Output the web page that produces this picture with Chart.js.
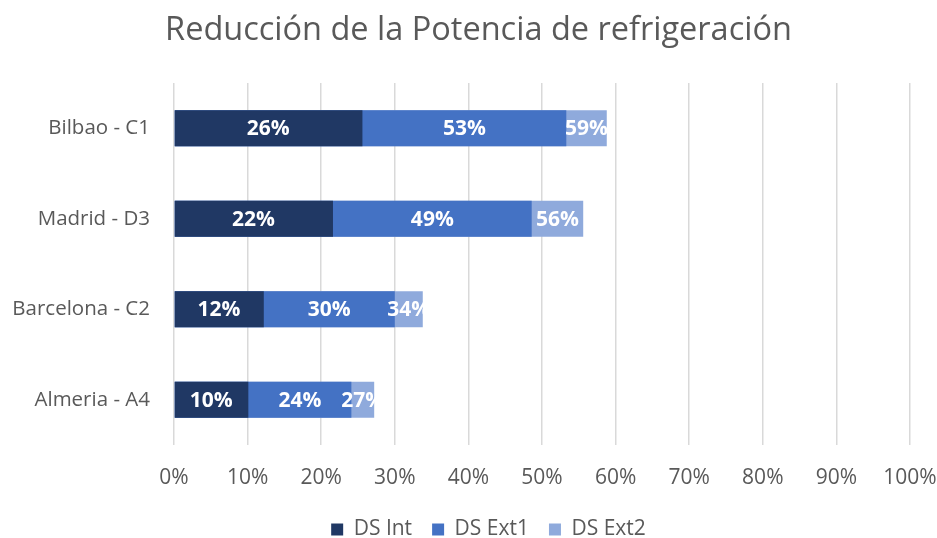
<!DOCTYPE html>
<html>
<head>
<meta charset="utf-8">
<script src="https://cdn.jsdelivr.net/npm/chart.js@4"></script>
<style>
  html, body { margin: 0; padding: 0; background: #ffffff; }
  #wrap { width: 937px; height: 538px; }
</style>
</head>
<body>
<div id="wrap"><canvas id="c" width="937" height="538"></canvas></div>
<script>
const categories = ['Bilbao - C1', 'Madrid - D3', 'Barcelona - C2', 'Almeria - A4'];
const seriesNames = ['DS Int', 'DS Ext1', 'DS Ext2'];
const dsInt  = [25.6, 21.6, 12.2, 10.1];
const dsExt1 = [53.3, 48.6, 30.0, 24.1];
const dsExt2 = [58.8, 55.6, 33.8, 27.2];
const xTicks = [0, 10, 20, 30, 40, 50, 60, 70, 80, 90, 100];
const colors = ['#203864', '#4472C4', '#8FAADC'];

const FONT = '"Open Sans", sans-serif';
const series = [dsInt, dsExt1, dsExt2];

const labelPlugin = {
  id: 'segLabels',
  afterLayout(chart) {
    if (chart.legend) { chart.legend.left += 20; chart.legend.right += 20; }
    if (chart.titleBlock) { chart.titleBlock.left += 10; chart.titleBlock.right += 10; }
  },
  afterDatasetsDraw(chart) {
    const ctx = chart.ctx;
    const xs = chart.scales.x;
    ctx.save();
    ctx.fillStyle = '#ffffff';
    ctx.font = 'bold 21px ' + FONT;
    ctx.textAlign = 'center';
    ctx.textBaseline = 'middle';
    series.forEach((arr, i) => {
      const meta = chart.getDatasetMeta(i);
      arr.forEach((v, j) => {
        const start = i > 0 ? series[i - 1][j] : 0;
        const cx = (xs.getPixelForValue(start) + xs.getPixelForValue(v)) / 2;
        const cy = meta.data[j].y;
        ctx.fillText(Math.round(v) + '%', cx, cy + 1);
      });
    });
    ctx.restore();
  }
};

new Chart(document.getElementById('c'), {
  type: 'bar',
  data: {
    labels: categories,
    datasets: series.map((arr, i) => ({
      label: seriesNames[i],
      data: arr,
      backgroundColor: colors[i],
      borderWidth: 0,
      categoryPercentage: 0.8,
      barPercentage: 0.5
    }))
  },
  options: {
    indexAxis: 'y',
    responsive: false,
    animation: false,
    layout: { padding: { left: 0, right: 0, top: 0, bottom: 0 } },
    plugins: {
      title: {
        display: true,
        text: 'Reducción de la Potencia de refrigeración',
        color: '#595959',
        font: { family: FONT, size: 32.5, weight: 'normal' },
        padding: { top: 11, bottom: 33 }
      },
      legend: {
        position: 'bottom',
        maxHeight: 39,
        labels: {
          color: '#595959',
          font: { family: FONT, size: 21 },
          boxWidth: 12,
          boxHeight: 12,
          padding: 20
        }
      },
      tooltip: { enabled: false }
    },
    scales: {
      x: {
        stacked: false,
        min: 0,
        max: 100,
        afterBuildTicks: s => { s.ticks = xTicks.map(v => ({ value: v })); },
        afterFit: s => { s.paddingRight = 27; s.height = 54; },
        ticks: {
          callback: v => v + '%',
          color: '#595959',
          font: { family: FONT, size: 21 },
          padding: 20,
          maxRotation: 0
        },
        grid: { color: '#d9d9d9', lineWidth: 1.5, drawTicks: false },
        border: { display: false }
      },
      y: {
        stacked: true,
        afterFit: s => { s.width = 174; },
        ticks: {
          color: '#595959',
          font: { family: FONT, size: 20.5 },
          padding: 24
        },
        grid: { display: false, drawTicks: false },
        border: { display: false }
      }
    }
  },
  plugins: [labelPlugin]
});
</script>
</body>
</html>
